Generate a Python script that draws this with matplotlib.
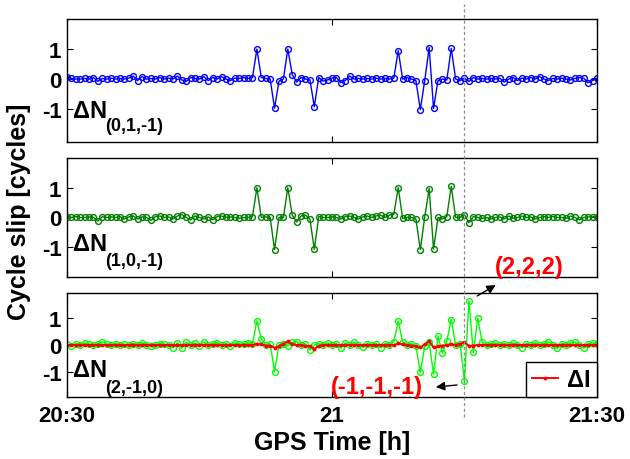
"""
Cycle slip combinations over one hour of GPS time
Three stacked panels plus the ionospheric residual in the last one
"""
import numpy as np
import matplotlib
matplotlib.use('Agg')
import matplotlib.pyplot as plt
from matplotlib.lines import Line2D
from matplotlib.transforms import blended_transform_factory

plt.rcParams['font.family'] = ['Liberation Sans', 'DejaVu Sans']
plt.rcParams['font.weight'] = 'bold'
plt.rcParams['axes.unicode_minus'] = False

# epochs: 20:30 -> 21:30, 30 s sampling
t_start, t_end = 20.5, 21.5
n_epochs = 121
slip_epoch = 21.25

dN_011 = [
    0.08, 0.02, 0.0, 0.0, 0.02, 0.0, 0.05, -0.08, 0.02, 0.0,
    0.03, 0.0, 0.02, 0.0, 0.03, 0.1, -0.05, 0.08, 0.0, 0.02,
    0.0, 0.05, 0.0, 0.03, 0.0, 0.1, -0.03, -0.08, 0.05, 0.02,
    0.0, 0.08, -0.05, 0.05, 0.0, 0.08, 0.0, -0.05, 0.03, 0.02,
    0.05, 0.02, 0.05, 1.0, 0.05, 0.02, 0.0, -0.97, -0.07, 0.0,
    1.0, 0.15, -0.1, 0.05, 0.0, -0.02, -0.92, 0.05, -0.07, -0.03,
    0.03, 0.05, -0.12, -0.05, 0.1, 0.0, 0.02, 0.0, 0.02, 0.0,
    0.03, 0.0, 0.02, 0.0, 0.03, 0.95, 0.0, 0.05, 0.0, -0.05,
    -1.02, -0.05, 1.05, -0.98, -0.05, 0.0, -0.03, 1.02, 0.0, -0.05,
    0.03, -0.08, 0.05, 0.0, 0.02, 0.0, 0.02, 0.0, 0.03, -0.1,
    0.0, 0.05, -0.05, 0.03, 0.0, 0.05, 0.0, 0.08, 0.0, -0.05,
    0.02, 0.0, 0.03, 0.0, -0.03, 0.02, 0.05, 0.03, -0.12, -0.05,
    0.03,
]

dN_10m1 = [
    0.0, 0.0, 0.03, 0.0, 0.0, 0.02, 0.0, -0.12, 0.03, 0.0,
    0.02, 0.0, 0.03, -0.05, 0.02, 0.05, -0.05, 0.02, 0.0, -0.1,
    0.03, 0.05, 0.0, 0.02, -0.05, 0.05, 0.1, 0.0, -0.08, 0.05,
    0.0, -0.05, 0.02, -0.08, 0.03, 0.05, 0.0, 0.02, 0.0, -0.03,
    0.0, 0.0, 0.03, 1.0, 0.0, 0.02, 0.0, -1.08, 0.0, 0.0,
    1.0, 0.08, -0.15, 0.05, 0.08, -0.05, -1.07, 0.03, 0.0, 0.0,
    0.02, 0.0, -0.05, 0.03, 0.05, 0.0, -0.05, 0.02, 0.05, 0.0,
    0.05, 0.08, 0.0, 0.08, 0.1, 1.0, -0.03, 0.0, 0.0, -0.05,
    -1.08, 0.02, 0.97, -1.06, 0.0, -0.05, 0.03, 1.05, 0.0, 0.0,
    0.1, -0.18, 0.03, 0.0, -0.03, 0.0, -0.05, 0.0, 0.02, -0.05,
    0.05, -0.03, 0.0, 0.05, 0.0, 0.02, -0.05, 0.0, 0.03, 0.0,
    0.03, 0.0, 0.0, -0.03, 0.05, 0.0, -0.08, 0.0, 0.02, 0.02,
    0.03,
]

dN_2m10 = [
    0.02, -0.05, 0.05, 0.0, 0.08, 0.02, 0.0, 0.05, 0.12, 0.03,
    0.0, 0.05, 0.0, 0.02, 0.0, 0.05, 0.0, 0.08, 0.0, -0.03,
    0.0, 0.05, 0.02, 0.0, -0.1, 0.08, -0.12, 0.1, 0.0, 0.08,
    -0.05, 0.12, 0.0, 0.05, 0.08, 0.0, 0.05, -0.03, 0.08, 0.03,
    0.05, 0.08, 0.05, 0.9, 0.22, 0.0, 0.04, -1.0, 0.0, 0.05,
    -0.03, 0.1, 0.12, 0.0, 0.05, -0.19, 0.0, 0.05, 0.0, 0.08,
    0.0, 0.05, -0.12, 0.08, 0.0, 0.1, 0.0, -0.08, 0.05, 0.0,
    0.05, -0.1, 0.05, 0.0, 0.12, 0.9, 0.12, 0.0, 0.05, -0.03,
    -1.03, -0.05, 0.1, -1.09, 0.33, -0.3, 0.14, 0.95, 0.0, 0.05,
    -1.34, 1.66, -0.28, 1.01, 0.1, 0.0, 0.05, 0.08, 0.0, 0.05,
    0.0, 0.08, 0.0, -0.1, 0.05, 0.0, 0.08, 0.0, 0.05, 0.12,
    0.0, -0.12, 0.05, 0.0, 0.08, 0.1, 0.0, -0.12, 0.05, 0.08,
    0.05,
]

dI = [
    0.0, 0.0, 0.0, 0.01, 0.0, 0.0, 0.0, 0.0, -0.01, 0.0,
    0.0, 0.0, 0.0, 0.0, 0.0, 0.01, 0.0, 0.0, 0.0, 0.0,
    0.0, 0.0, 0.0, 0.0, 0.0, 0.0, -0.01, 0.0, 0.0, 0.0,
    0.0, 0.0, 0.0, 0.0, 0.0, 0.0, 0.0, 0.0, 0.0, 0.0,
    0.0, 0.0, 0.0, 0.05, 0.02, -0.02, -0.03, -0.1, -0.05, 0.05,
    0.14, 0.03, 0.0, 0.0, -0.03, -0.05, -0.15, -0.03, 0.0, 0.0,
    0.0, 0.0, 0.0, 0.0, 0.0, 0.0, 0.0, 0.0, 0.0, 0.0,
    0.0, 0.0, 0.0, 0.0, 0.0, 0.06, 0.02, 0.0, -0.02, -0.05,
    -0.09, 0.02, 0.15, -0.09, -0.05, -0.02, 0.0, 0.02, 0.0, 0.05,
    0.1, -0.03, -0.02, 0.0, 0.0, 0.0, 0.0, 0.0, 0.0, 0.0,
    0.0, 0.0, 0.0, 0.0, 0.0, 0.0, 0.0, 0.0, 0.0, 0.0,
    0.0, 0.0, 0.0, 0.0, 0.0, 0.0, 0.0, 0.0, 0.0, 0.0,
    0.0,
]

t = np.linspace(t_start, t_end, n_epochs)

x_ticks = [20.5, 21.0, 21.5]
x_ticklabels = ['20:30', '21', '21:30']
y_ticks = [-1, 0, 1]

fig = plt.figure(figsize=(6.3, 4.6), dpi=100)

# panel rectangles [left, bottom, width, height]
ax1 = fig.add_axes([0.1063, 0.689, 0.8413, 0.2674])
ax2 = fig.add_axes([0.1063, 0.3957, 0.8413, 0.2587])
ax3 = fig.add_axes([0.1063, 0.1348, 0.8413, 0.226])

panels = [
    (ax1, dN_011, 'blue', '(0,1,-1)', (-2.1, 2.0), 0.20, 0.095),
    (ax2, dN_10m1, (0, 0.5, 0), '(1,0,-1)', (-2.0, 2.0), 0.225, 0.10),
    (ax3, dN_2m10, (0, 1, 0), '(2,-1,0)', (-1.95, 1.95), 0.20, 0.05),
]

for ax, vals, color, sub, ylim, y_main, y_sub in panels:
    ax.plot(t, vals, '-o', color=color, lw=1.0, ms=4.2, mew=1.0,
            mfc='none')
    ax.set_xlim(t_start, t_end)
    ax.set_ylim(*ylim)
    ax.set_yticks(y_ticks)
    ax.set_xticks(x_ticks)
    ax.tick_params(direction='in', length=4, width=0.8, top=True,
                   right=True, labelsize=16, pad=4)
    for s in ax.spines.values():
        s.set_linewidth(1.0)
    ax.text(0.012, y_main, 'ΔN', transform=ax.transAxes, fontsize=17,
            fontweight='bold', va='baseline', ha='left')
    ax.text(0.072, y_sub, sub, transform=ax.transAxes, fontsize=13,
            fontweight='bold', va='baseline', ha='left')
    if ax is not ax3:
        ax.set_xticklabels([])

ax3.set_xticklabels(x_ticklabels)
ax3.tick_params(axis='x', pad=6)

# ionospheric residual in the last panel
ax3.plot(t, dI, '-', color='red', lw=1.4, marker='.', ms=3.5,
         label='ΔI')
leg = ax3.legend(loc='lower right', fontsize=17, frameon=True,
                 fancybox=False, edgecolor='black', borderaxespad=0.0,
                 handlelength=1.1, handletextpad=0.4, borderpad=0.25)
leg.get_frame().set_linewidth(1.0)
leg.get_frame().set_alpha(1.0)

# arrows + labels for the detected slip triples
arrow_kw = dict(arrowstyle='-|>', color='black', lw=1.0,
                mutation_scale=13, shrinkA=0, shrinkB=0)
ax3.annotate('', xy=(21.309, 2.25), xytext=(21.274, 1.84),
             arrowprops=arrow_kw, annotation_clip=False)
ax3.annotate('', xy=(21.196, -1.575), xytext=(21.236, -1.50),
             arrowprops=arrow_kw, annotation_clip=False)
ax3.text(21.372, 2.96, '(2,2,2)', color='red', fontsize=17,
         fontweight='bold', ha='center', va='center', clip_on=False)
ax3.text(21.085, -1.54, '(-1,-1,-1)', color='red', fontsize=17,
         fontweight='bold', ha='center', va='center', clip_on=False)

# dotted marker of the slip epoch across all panels
trans = blended_transform_factory(ax3.transData, fig.transFigure)
fig.add_artist(Line2D([slip_epoch, slip_epoch], [0.091, 0.989],
                      transform=trans, color='0.55', lw=0.9,
                      linestyle=(0, (2.5, 2))))

fig.text(0.03, 0.54, 'Cycle slip [cycles]', rotation=90, fontsize=18,
         fontweight='bold', ha='center', va='center')
fig.text(0.527, 0.038, 'GPS Time [h]', fontsize=18, fontweight='bold',
         ha='center', va='center')

fig.savefig('out.png', dpi=100)
